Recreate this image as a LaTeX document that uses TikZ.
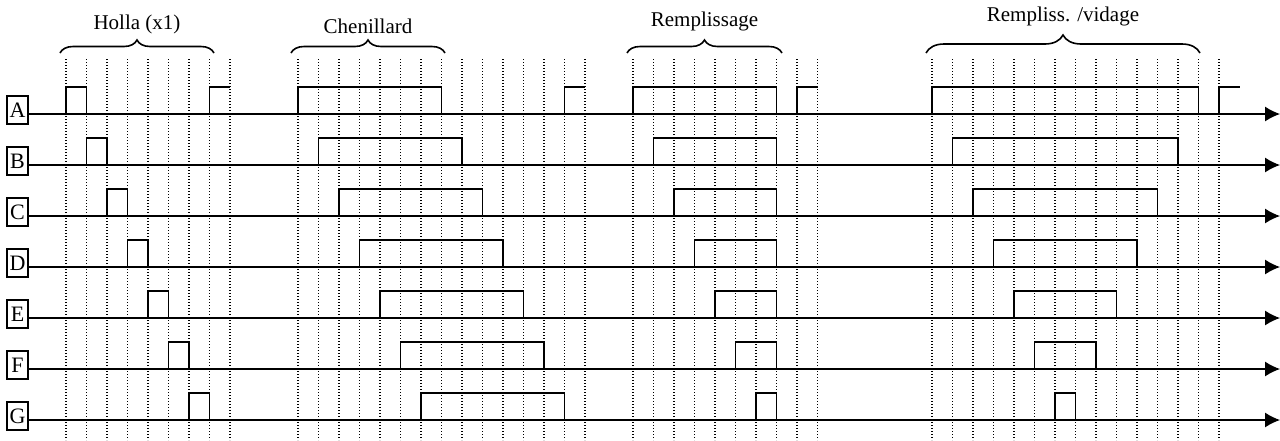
\documentclass[tikz,border=0pt]{standalone}
\usepackage{fontspec}
\setmainfont{Liberation Serif}
\usetikzlibrary{arrows.meta,decorations.pathreplacing}
\tikzset{
  tick/.style={draw,line width=0.65pt,dash pattern=on 0.6pt off 0.9pt},
  pulse/.style={draw,line width=0.9pt},
  axis/.style={line width=0.6pt,-{Latex[length=7.5pt,width=7.5pt]}},
  lbl/.style={draw,line width=0.6pt,minimum width=10.5pt,minimum height=14pt,inner sep=0pt,font=\fontsize{11}{12}\selectfont},
  grp/.style={decorate,decoration={brace,amplitude=6.5pt},line width=0.8pt},
  grptxt/.style={font=\fontsize{10.5}{12}\selectfont,inner sep=1pt}
}
\begin{document}
\begin{tikzpicture}[x=0.5pt,y=-0.5pt]
\useasboundingbox (0,0) rectangle (1280,440);
% grille des pas
\foreach \xs/\m in {66/8,298/14,633/9,932/14}
  \foreach \k in {0,...,\m}
    \draw[tick] ({\xs+20.5*\k},59) -- ({\xs+20.5*\k},440);
% voies A..G
\foreach \vname/\vidx in {A/0,B/1,C/2,D/3,E/4,F/5,G/6}{
  \node[lbl] (\vname) at (17.5,{110+51*\vidx}) {\vname};
  \coordinate (\vname end) at (1280,{114+51*\vidx});
  \draw[axis] (\vname.east |- \vname end) -- (\vname end);
  \draw[pulse] ({66+20.5*\vidx},{114+51*\vidx}) rectangle ++(20.5,-27);
  \draw[pulse] ({298+20.5*\vidx},{114+51*\vidx}) rectangle ++(143.5,-27);
  \draw[pulse] ({633+20.5*\vidx},{114+51*\vidx}) rectangle (776.5,{87+51*\vidx});
  \draw[pulse] ({932+20.5*\vidx},{114+51*\vidx}) rectangle ({1198.5-20.5*\vidx},{87+51*\vidx});
}
% reprise de A
\draw[pulse] (209.5,114) |- (230,87);
\draw[pulse] (564.5,114) |- (585,87);
\draw[pulse] (797,114) |- (817.5,87);
\draw[pulse] (1219,114) |- (1240,87);
% accolades
\draw[grp] (60,53) -- (214,53) node[grptxt,midway,above=8pt] (holla) {Holla (x1)};
\draw[grp] (291,53) -- (445,53) node[grptxt,midway,above=8pt] (chen) {Chenillard};
\draw[grp] (627,53) -- (782,53) node[grptxt,midway,above=9.5pt] (rempl) {Remplissage};
\draw[grp,decoration={amplitude=9pt}] (926,53) -- (1200,53) node[grptxt,midway,above=12pt] (vid) {Rempliss. /vidage};
\end{tikzpicture}
\end{document}
